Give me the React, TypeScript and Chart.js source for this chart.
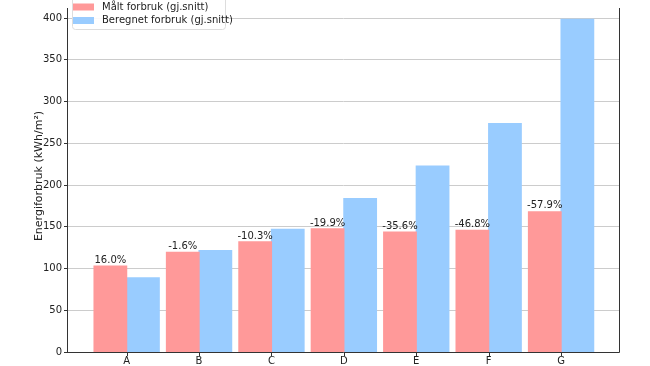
import React, { useEffect, useRef } from "react";
import { Chart, registerables } from "chart.js";

Chart.register(...registerables);

const categories = ["A", "B", "C", "D", "E", "F", "G"];
const measured = [103, 119.3, 131.8, 147.4, 143.5, 145.8, 168];
const computed = [88.8, 121.3, 146.8, 183.8, 222.5, 273.5, 398.5];
const pctLabels = ["16.0%", "-1.6%", "-10.3%", "-19.9%", "-35.6%", "-46.8%", "-57.9%"];
const yTicks = [0, 50, 100, 150, 200, 250, 300, 350, 400];
const seriesNames = ["Målt forbruk (gj.snitt)", "Beregnet forbruk (gj.snitt)"];
const colors = ["#FF9999", "#99CCFF"];
const yTitle = "Energiforbruk (kWh/m²)";

const FONT = "'DejaVu Sans', sans-serif";

const overlayPlugin = {
  id: "overlay",
  afterDatasetsDraw(chart: any) {
    const ctx = chart.ctx;
    const meta = chart.getDatasetMeta(0);
    ctx.save();
    ctx.font = `10px ${FONT}`;
    ctx.fillStyle = "#222";
    ctx.textAlign = "center";
    ctx.textBaseline = "bottom";
    meta.data.forEach((bar: any, i: number) => {
      ctx.fillText(pctLabels[i], bar.x, bar.y - 1);
    });
    ctx.restore();
  },
  afterDraw(chart: any) {
    const ctx = chart.ctx;
    const area = chart.chartArea;
    const xs = chart.scales.x;
    ctx.save();
    // frame
    ctx.strokeStyle = "#333";
    ctx.lineWidth = 1;
    ctx.beginPath();
    ctx.moveTo(Math.round(area.left) - 0.5, area.top);
    ctx.lineTo(Math.round(area.left) - 0.5, Math.round(area.bottom) + 0.5);
    ctx.lineTo(Math.round(area.right) + 0.5, Math.round(area.bottom) + 0.5);
    ctx.lineTo(Math.round(area.right) + 0.5, area.top);
    ctx.stroke();
    // x tick marks and labels
    ctx.beginPath();
    categories.forEach((_, i) => {
      const px = Math.round(xs.getPixelForValue(i)) + 0.5;
      ctx.moveTo(px, Math.round(area.bottom) + 0.5);
      ctx.lineTo(px, Math.round(area.bottom) + 4);
    });
    ctx.stroke();
    ctx.font = `10px ${FONT}`;
    ctx.fillStyle = "#222";
    ctx.textAlign = "center";
    ctx.textBaseline = "middle";
    categories.forEach((c, i) => {
      ctx.fillText(c, xs.getPixelForValue(i), Math.round(area.bottom) + 9);
    });
    // y title
    ctx.font = `11px ${FONT}`;
    ctx.fillStyle = "#222";
    ctx.translate(39, 176);
    ctx.rotate(-Math.PI / 2);
    ctx.textAlign = "center";
    ctx.textBaseline = "middle";
    ctx.fillText(yTitle, 0, 0);
    ctx.restore();

    // legend
    ctx.save();
    const lx = area.left + 4;
    const ly = -4;
    const lw = 153;
    const lh = 33;
    ctx.fillStyle = "rgba(255,255,255,0.9)";
    ctx.strokeStyle = "#dddddd";
    ctx.lineWidth = 1;
    ctx.beginPath();
    (ctx as any).roundRect(lx + 0.5, ly + 0.5, lw, lh, 3);
    ctx.fill();
    ctx.stroke();
    ctx.font = `10px ${FONT}`;
    ctx.textBaseline = "middle";
    ctx.textAlign = "left";
    seriesNames.forEach((name, i) => {
      const cy = 7 + i * 13.5;
      ctx.fillStyle = colors[i];
      ctx.fillRect(lx + 1, cy - 3.5, 21, 7);
      ctx.fillStyle = "#222";
      ctx.fillText(name, lx + 30, cy);
    });
    ctx.restore();
  },
};

export default function App() {
  const ref = useRef<HTMLCanvasElement>(null);
  useEffect(() => {
    if (!ref.current) return;
    const chart = new Chart(ref.current, {
      type: "bar",
      data: {
        datasets: [
          {
            label: seriesNames[0],
            data: measured.map((v, i) => ({ x: i, y: v })),
            backgroundColor: colors[0],
            categoryPercentage: 0.9,
            barPercentage: 1,
            borderWidth: 0,
            inflateAmount: 0.6,
          },
          {
            label: seriesNames[1],
            data: computed.map((v, i) => ({ x: i, y: v })),
            backgroundColor: colors[1],
            categoryPercentage: 0.9,
            barPercentage: 1,
            borderWidth: 0,
            inflateAmount: 0.6,
          },
        ],
      },
      options: {
        animation: false,
        responsive: false,
        maintainAspectRatio: false,
        layout: { padding: { top: 0, right: 31, left: 0, bottom: 0 } },
        plugins: {
          legend: { display: false },
          tooltip: { enabled: false },
        },
        scales: {
          x: {
            type: "linear",
            min: -0.81,
            max: 6.8,
            offset: false,
            grid: { display: false },
            border: { display: false },
            afterBuildTicks(scale: any) {
              scale.ticks = categories.map((_, i) => ({ value: i }));
            },
            afterFit(scale: any) {
              scale.height = 14;
            },
            ticks: { display: false },
          },
          y: {
            min: 0,
            max: 412,
            afterBuildTicks(scale: any) {
              scale.ticks = yTicks.map((v) => ({ value: v }));
            },
            afterFit(scale: any) {
              scale.width = 68;
            },
            grid: {
              color: "#cccccc",
              tickColor: "#333",
              tickLength: 4,
              lineWidth: 1,
            },
            border: { display: false },
            ticks: {
              padding: 2,
              color: "#222",
              font: { family: FONT, size: 10 },
            },
          },
        },
      },
      plugins: [overlayPlugin],
    } as any);
    return () => chart.destroy();
  }, []);
  return (
    <div style={{ position: "absolute", left: 0, top: 0, width: 650, height: 366 }}>
      <canvas ref={ref} width={650} height={366} style={{ width: 650, height: 366 }} />
    </div>
  );
}
